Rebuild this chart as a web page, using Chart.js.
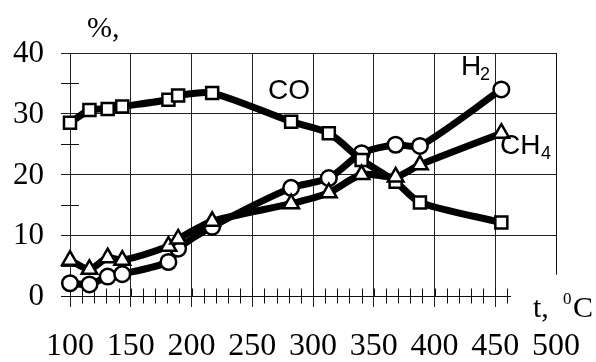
<!DOCTYPE html>
<html>
<head>
<meta charset="utf-8">
<script src="https://cdn.jsdelivr.net/npm/chart.js@4/dist/chart.umd.min.js"></script>
<style>
  html, body { margin: 0; padding: 0; background: #fff; }
  canvas { display: block; }
</style>
</head>
<body>
<canvas id="gasChart" width="596" height="362"></canvas>
<script>
// =======================================================
// DATA
// =======================================================
const temperatures = [100, 116, 131, 143, 181, 189, 217, 282, 313, 340, 368, 388, 455];
const coValues  = [28.5, 30.6, 30.8, 31.2, 32.3, 33.0, 33.4, 28.7, 26.8, 22.4, 18.8, 15.4, 12.1];
const h2Values  = [2.1, 1.9, 3.2, 3.6, 5.6, 7.8, 11.4, 17.8, 19.4, 23.5, 24.9, 24.7, 34.0];
const ch4Values = [5.9, 4.4, 6.3, 5.9, 8.2, 9.4, 12.3, 15.2, 17.0, 20.0, 19.6, 21.6, 26.8];

const xTickValues = [100, 150, 200, 250, 300, 350, 400, 450, 500];
const yTickValues = [0, 10, 20, 30, 40];
const xMinorTicks = [110, 120, 130, 140, 160, 170, 180, 190, 210, 220, 230, 240, 260, 270, 280, 290,
                     310, 320, 330, 340, 360, 370, 380, 390, 410, 420, 430, 440, 460];
const yMinorTicks = [5, 15, 25, 35];

const SERIF = "'Liberation Serif', 'Times New Roman', serif";
const SANS = "'Liberation Sans', Arial, sans-serif";

function toPoints(values) {
    return values.map((v, i) => ({ x: temperatures[i], y: v }));
}

// =======================================================
// EXTRA DRAWING: minor ticks, axis line, tick labels, texts
// =======================================================
const extrasPlugin = {
    id: 'extras',
    beforeDatasetsDraw(chart) {
        const { ctx, scales: { x, y } } = chart;
        const y0 = Math.round(y.getPixelForValue(0)) + 0.5;
        ctx.save();
        ctx.strokeStyle = '#111';
        ctx.lineWidth = 1;
        ctx.beginPath();
        // x axis line (stops short of the frame)
        ctx.moveTo(x.left - 9, y0);
        ctx.lineTo(x.getPixelForValue(463), y0);
        // right frame, does not reach the axis
        const xr = Math.round(x.getPixelForValue(500)) + 0.5;
        ctx.moveTo(xr, y.getPixelForValue(40));
        ctx.lineTo(xr, y.getPixelForValue(3.5));
        // minor ticks
        xMinorTicks.forEach(v => {
            const px = Math.round(x.getPixelForValue(v)) + 0.5;
            ctx.moveTo(px, y0 - 8);
            ctx.lineTo(px, y0 + 7);
        });
        yMinorTicks.forEach(v => {
            const py = Math.round(y.getPixelForValue(v)) + 0.5;
            ctx.moveTo(x.left - 9, py);
            ctx.lineTo(x.left + 9, py);
        });
        // major ticks cross the axis
        xTickValues.slice(0, -1).forEach(v => {
            const px = Math.round(x.getPixelForValue(v)) + 0.5;
            ctx.moveTo(px, y0 - 8);
            ctx.lineTo(px, y0);
        });
        ctx.stroke();
        ctx.restore();
    },
    afterDraw(chart) {
        const { ctx, scales: { x, y } } = chart;
        ctx.save();
        ctx.fillStyle = '#000';

        // tick labels
        ctx.font = `31px ${SERIF}`;
        ctx.textBaseline = 'middle';
        ctx.textAlign = 'right';
        yTickValues.forEach(v => ctx.fillText(String(v), 44, y.getPixelForValue(v) + 1));
        ctx.font = `32px ${SERIF}`;
        ctx.textAlign = 'center';
        xTickValues.forEach(v => ctx.fillText(String(v), x.getPixelForValue(v), 347));

        ctx.textBaseline = 'alphabetic';
        ctx.textAlign = 'left';

        ctx.font = `30px ${SERIF}`;
        ctx.fillText('%,', 87, 37);

        ctx.font = `28px ${SANS}`;
        ctx.fillText('CO', 268, 99);
        ctx.fillText('H', 461, 75);
        ctx.fillText('CH', 500, 154);
        ctx.font = `18px ${SANS}`;
        ctx.fillText('2', 480, 80);
        ctx.fillText('4', 541, 159);

        ctx.font = `30px ${SERIF}`;
        ctx.fillText('t,', 533, 317);
        ctx.fillText('C', 573, 317);
        ctx.font = `17px ${SERIF}`;
        ctx.fillText('0', 563, 304);
        ctx.restore();
    }
};

// =======================================================
// CHART
// =======================================================
function renderGasChart() {
    const ctx = document.getElementById('gasChart');

    const lineStyle = {
        borderColor: '#000',
        borderWidth: 7,
        pointBorderColor: '#000',
        pointBackgroundColor: '#fff',
        pointBorderWidth: 2.5,
        tension: 0.25,
        fill: false,
        clip: false
    };

    new Chart(ctx, {
        type: 'line',
        data: {
            datasets: [
                { ...lineStyle, label: 'CH4', data: toPoints(ch4Values), pointStyle: 'triangle', pointRadius: 9 },
                { ...lineStyle, label: 'CO', data: toPoints(coValues), pointStyle: 'rect', pointRadius: 8.5 },
                { ...lineStyle, label: 'H2', data: toPoints(h2Values), pointStyle: 'circle', pointRadius: 7.8 }
            ]
        },
        options: {
            responsive: false,
            animation: false,
            devicePixelRatio: 1,
            layout: { padding: { top: 53, right: 40, left: 0, bottom: 0 } },
            plugins: { legend: { display: false }, tooltip: { enabled: false } },
            scales: {
                x: {
                    type: 'linear',
                    min: 100,
                    max: 500,
                    afterFit: s => { s.height = 66; },
                    afterBuildTicks: s => { s.ticks = xTickValues.map(v => ({ value: v })); },
                    ticks: { display: false },
                    grid: {
                        color: c => (c.tick && c.tick.value === 500 ? 'rgba(0,0,0,0)' : '#222'),
                        lineWidth: 1,
                        tickLength: 11
                    },
                    border: { display: false }
                },
                y: {
                    min: 0,
                    max: 40,
                    afterFit: s => { s.width = 70; },
                    afterBuildTicks: s => { s.ticks = yTickValues.map(v => ({ value: v })); },
                    ticks: { display: false },
                    grid: {
                        color: c => (c.tick && c.tick.value === 0 ? 'rgba(0,0,0,0)' : '#222'),
                        lineWidth: 1,
                        tickLength: 9
                    },
                    border: { display: false }
                }
            }
        },
        plugins: [extrasPlugin]
    });
}

renderGasChart();
</script>
</body>
</html>
